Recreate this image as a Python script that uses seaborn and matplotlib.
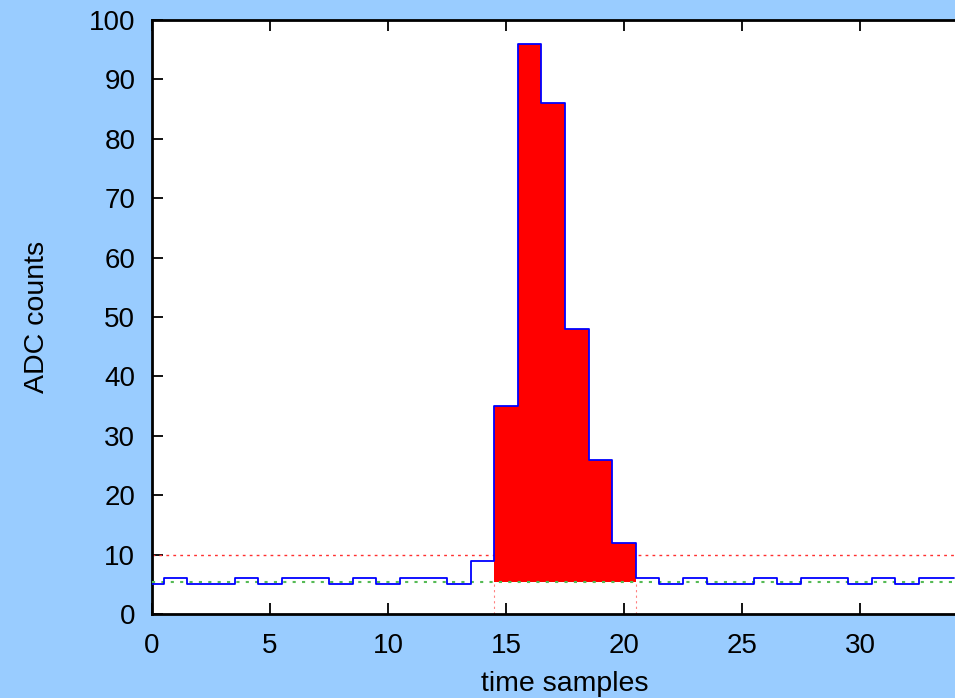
import numpy as np
import pandas as pd
import matplotlib
matplotlib.use("Agg")
import matplotlib.pyplot as plt
import seaborn as sns

# data
samples = list(range(0, 35))
counts = [5, 6, 5, 5, 6, 5, 6, 6, 5, 6, 5, 6, 6, 5, 9,
          35, 96, 86, 48, 26, 12,
          6, 5, 6, 5, 5, 6, 5, 6, 6, 5, 6, 5, 6, 6]
pedestal = 5.44
threshold = 10
signal_first, signal_last = 15, 20
x_ticks = [0, 5, 10, 15, 20, 25, 30]
y_ticks = [0, 10, 20, 30, 40, 50, 60, 70, 80, 90, 100]

df = pd.DataFrame({"sample": samples, "adc": counts})

sns.set_theme(style="white")
plt.rcParams['font.family'] = ['Liberation Sans', 'DejaVu Sans']

bg = "#99ccff"
fig = plt.figure(figsize=(9.55, 6.98), dpi=100, facecolor=bg)
ax = fig.add_axes([152/955, 84/698, 826/955, 594/698])
ax.set_facecolor("white")

# threshold line
ax.axhline(threshold, color="#ff3030", lw=1.0, ls=(0, (2, 3)), zorder=1)

# signal fill
sig = df[(df["sample"] >= signal_first) & (df["sample"] <= signal_last)]
ax.bar(sig["sample"], sig["adc"] - pedestal, bottom=pedestal, width=1.0,
       color="#ff0000", linewidth=0, zorder=2)

# window boundaries
for xb in (signal_first - 0.5, signal_last + 0.5):
    ax.plot([xb, xb], [0, pedestal], color="#ff8080", lw=0.8, ls=(0, (2, 3)), zorder=2)

# pedestal line
ax.axhline(pedestal, color="#55bb55", lw=1.5, ls=(0, (1.5, 3)), zorder=3)

# waveform
sns.lineplot(data=df, x="sample", y="adc", drawstyle="steps-mid",
             color="#0000ff", lw=1.3, ax=ax, zorder=4)

ax.set_xlim(0, 35)
ax.set_ylim(0, 100)
ax.set_xticks(x_ticks)
ax.set_yticks(y_ticks)
ax.tick_params(direction="in", length=8, width=1.3, color="black",
               labelsize=20, labelcolor="black", top=True, bottom=True, left=True)
ax.tick_params(axis="x", pad=14)
ax.tick_params(axis="y", pad=12)
for s in ("left", "top", "bottom"):
    ax.spines[s].set_color("black")
    ax.spines[s].set_linewidth(2)
ax.spines["right"].set_visible(False)

ax.set_xlabel("time samples", fontsize=20.5, color="black", labelpad=8)
ax.set_ylabel("ADC counts", fontsize=20.5, color="black", labelpad=28)

fig.savefig("out.png", dpi=100, facecolor=bg)
